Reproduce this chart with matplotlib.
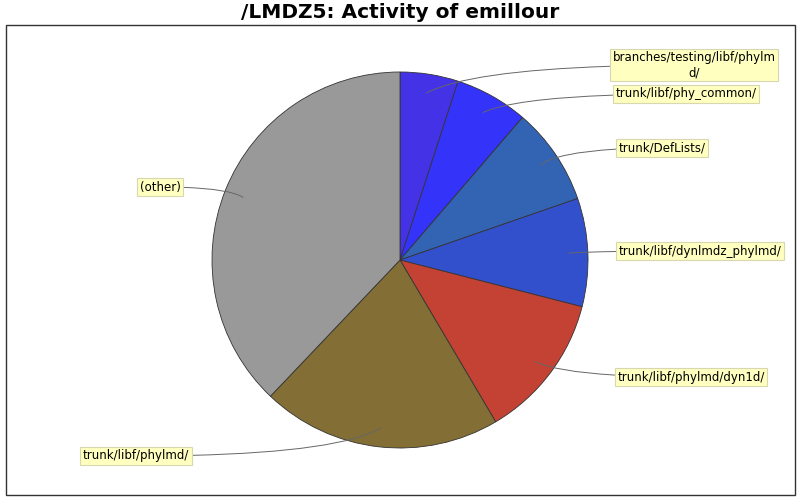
import matplotlib
matplotlib.use("Agg")
import matplotlib.pyplot as plt
import numpy as np

# Data (share of activity, percent)
labels = [
    "branches/testing/libf/phylm\nd/",
    "trunk/libf/phy_common/",
    "trunk/DefLists/",
    "trunk/libf/dynlmdz_phylmd/",
    "trunk/libf/phylmd/dyn1d/",
    "trunk/libf/phylmd/",
    "(other)",
]
shares = [5.0, 6.3, 8.4, 9.3, 12.5, 20.6, 37.9]
colors = ["#4433e6", "#3333fa", "#3363b3", "#3350cc", "#c44233", "#836e35", "#999999"]
# label box centres in pixel coords (x, y from top)
label_pos = [(694, 65), (686, 94), (662, 148), (700, 251), (691, 377), (136, 456), (160, 187)]

W, H = 800, 500
fig = plt.figure(figsize=(8, 5), dpi=100)
ax = fig.add_axes([0, 0, 1, 1])

# frame
ax.add_patch(plt.Rectangle((6, 5), 789, 470, fill=False, edgecolor="#333333", lw=1))

cx, cy, R = 400, H - 260, 188
wedges, _ = ax.pie(shares, colors=colors, startangle=90, counterclock=False,
                   center=(cx, cy), radius=R, frame=True,
                   wedgeprops=dict(edgecolor="#333333", linewidth=0.6))
ax.set_xlim(0, W)
ax.set_ylim(0, H)
ax.set_aspect("equal")
ax.axis("off")

for w, lab, (lx, ly) in zip(wedges, labels, label_pos):
    mid = np.deg2rad((w.theta1 + w.theta2) / 2)
    px = cx + 0.9 * R * np.cos(mid)
    py = cy + 0.9 * R * np.sin(mid)
    ty = H - ly
    # control point on the label's horizontal line -> leader leaves the box flat
    ctrl_x = px + 0.2 * (lx - px)
    angB = np.degrees(np.arctan2(ty - py, ctrl_x - px))
    ax.annotate(lab, xy=(px, py), xytext=(lx, ty), ha="center", va="center",
                fontsize=8.5, color="black", multialignment="center",
                bbox=dict(boxstyle="square,pad=0.2", fc="#ffffc0", ec="#d8d8b0", lw=0.8),
                arrowprops=dict(arrowstyle="-", color="#666666", lw=0.7,
                                connectionstyle="angle3,angleA=0,angleB=%.1f" % angB,
                                shrinkA=0, shrinkB=0))

fig.text(0.5, 1 - 13 / H, "/LMDZ5: Activity of emillour", ha="center", va="center",
         fontsize=14.5, fontweight="bold")

fig.savefig("out.png", dpi=100)
